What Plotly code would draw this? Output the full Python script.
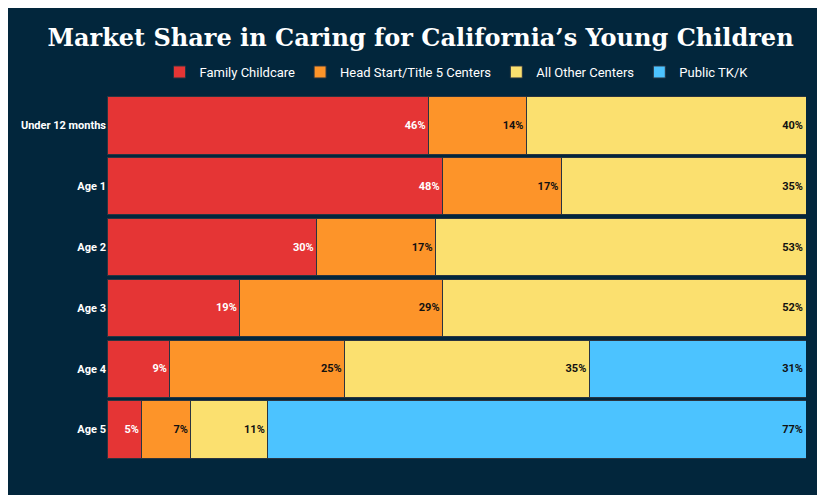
import plotly.graph_objects as go

ages = ["Under 12 months", "Age 1", "Age 2", "Age 3", "Age 4", "Age 5"]
family = [46, 48, 30, 19, 9, 5]
head_start = [14, 17, 17, 29, 25, 7]
other_centers = [40, 35, 53, 52, 35, 11]
public_tk = [0, 0, 0, 0, 31, 77]

series = [
    ("Family Childcare", family, "#e53535", "white"),
    ("Head Start/Title 5 Centers", head_start, "#fd9429", "#111111"),
    ("All Other Centers", other_centers, "#fbe06f", "#111111"),
    ("Public TK/K", public_tk, "#4cc3ff", "#111111"),
]

fig = go.Figure()
for name, vals, color, tcolor in series:
    fig.add_trace(go.Bar(
        y=ages, x=vals, name=name, orientation="h",
        marker=dict(color=color, line=dict(color="#2a3440", width=1)),
        text=[f"<b>{v}%</b>" if v else "" for v in vals],
        textposition="inside", insidetextanchor="end",
        textfont=dict(color=tcolor, size=11, family="Roboto"),
        textangle=0,
    ))

fig.update_layout(
    barmode="stack", bargap=0.06,
    width=825, height=495,
    paper_bgcolor="#02263c", plot_bgcolor="#02263c",
    font=dict(family="Roboto", color="white"),
    title=dict(text="<b>Market Share in Caring for California’s Young Children</b>",
               x=0.5, y=0.941, xanchor="center", yanchor="middle",
               font=dict(family="DejaVu Serif", size=24, color="white")),
    legend=dict(orientation="h", x=0.5, xanchor="center", y=1.063, yanchor="middle",
                font=dict(size=13, color="white"), traceorder="normal",
                itemwidth=30, tracegroupgap=0),
    margin=dict(l=99, r=27, t=87, b=43),
    showlegend=True,
)
fig.update_xaxes(visible=False, range=[0, 100])
fig.update_yaxes(autorange="reversed", tickfont=dict(size=11, color="white", family="Roboto"),
                 ticksuffix=" ", showgrid=False)
fig.update_yaxes(ticktext=[f"<b>{a}</b>" for a in ages], tickvals=ages)

fig.write_html("out.html")
